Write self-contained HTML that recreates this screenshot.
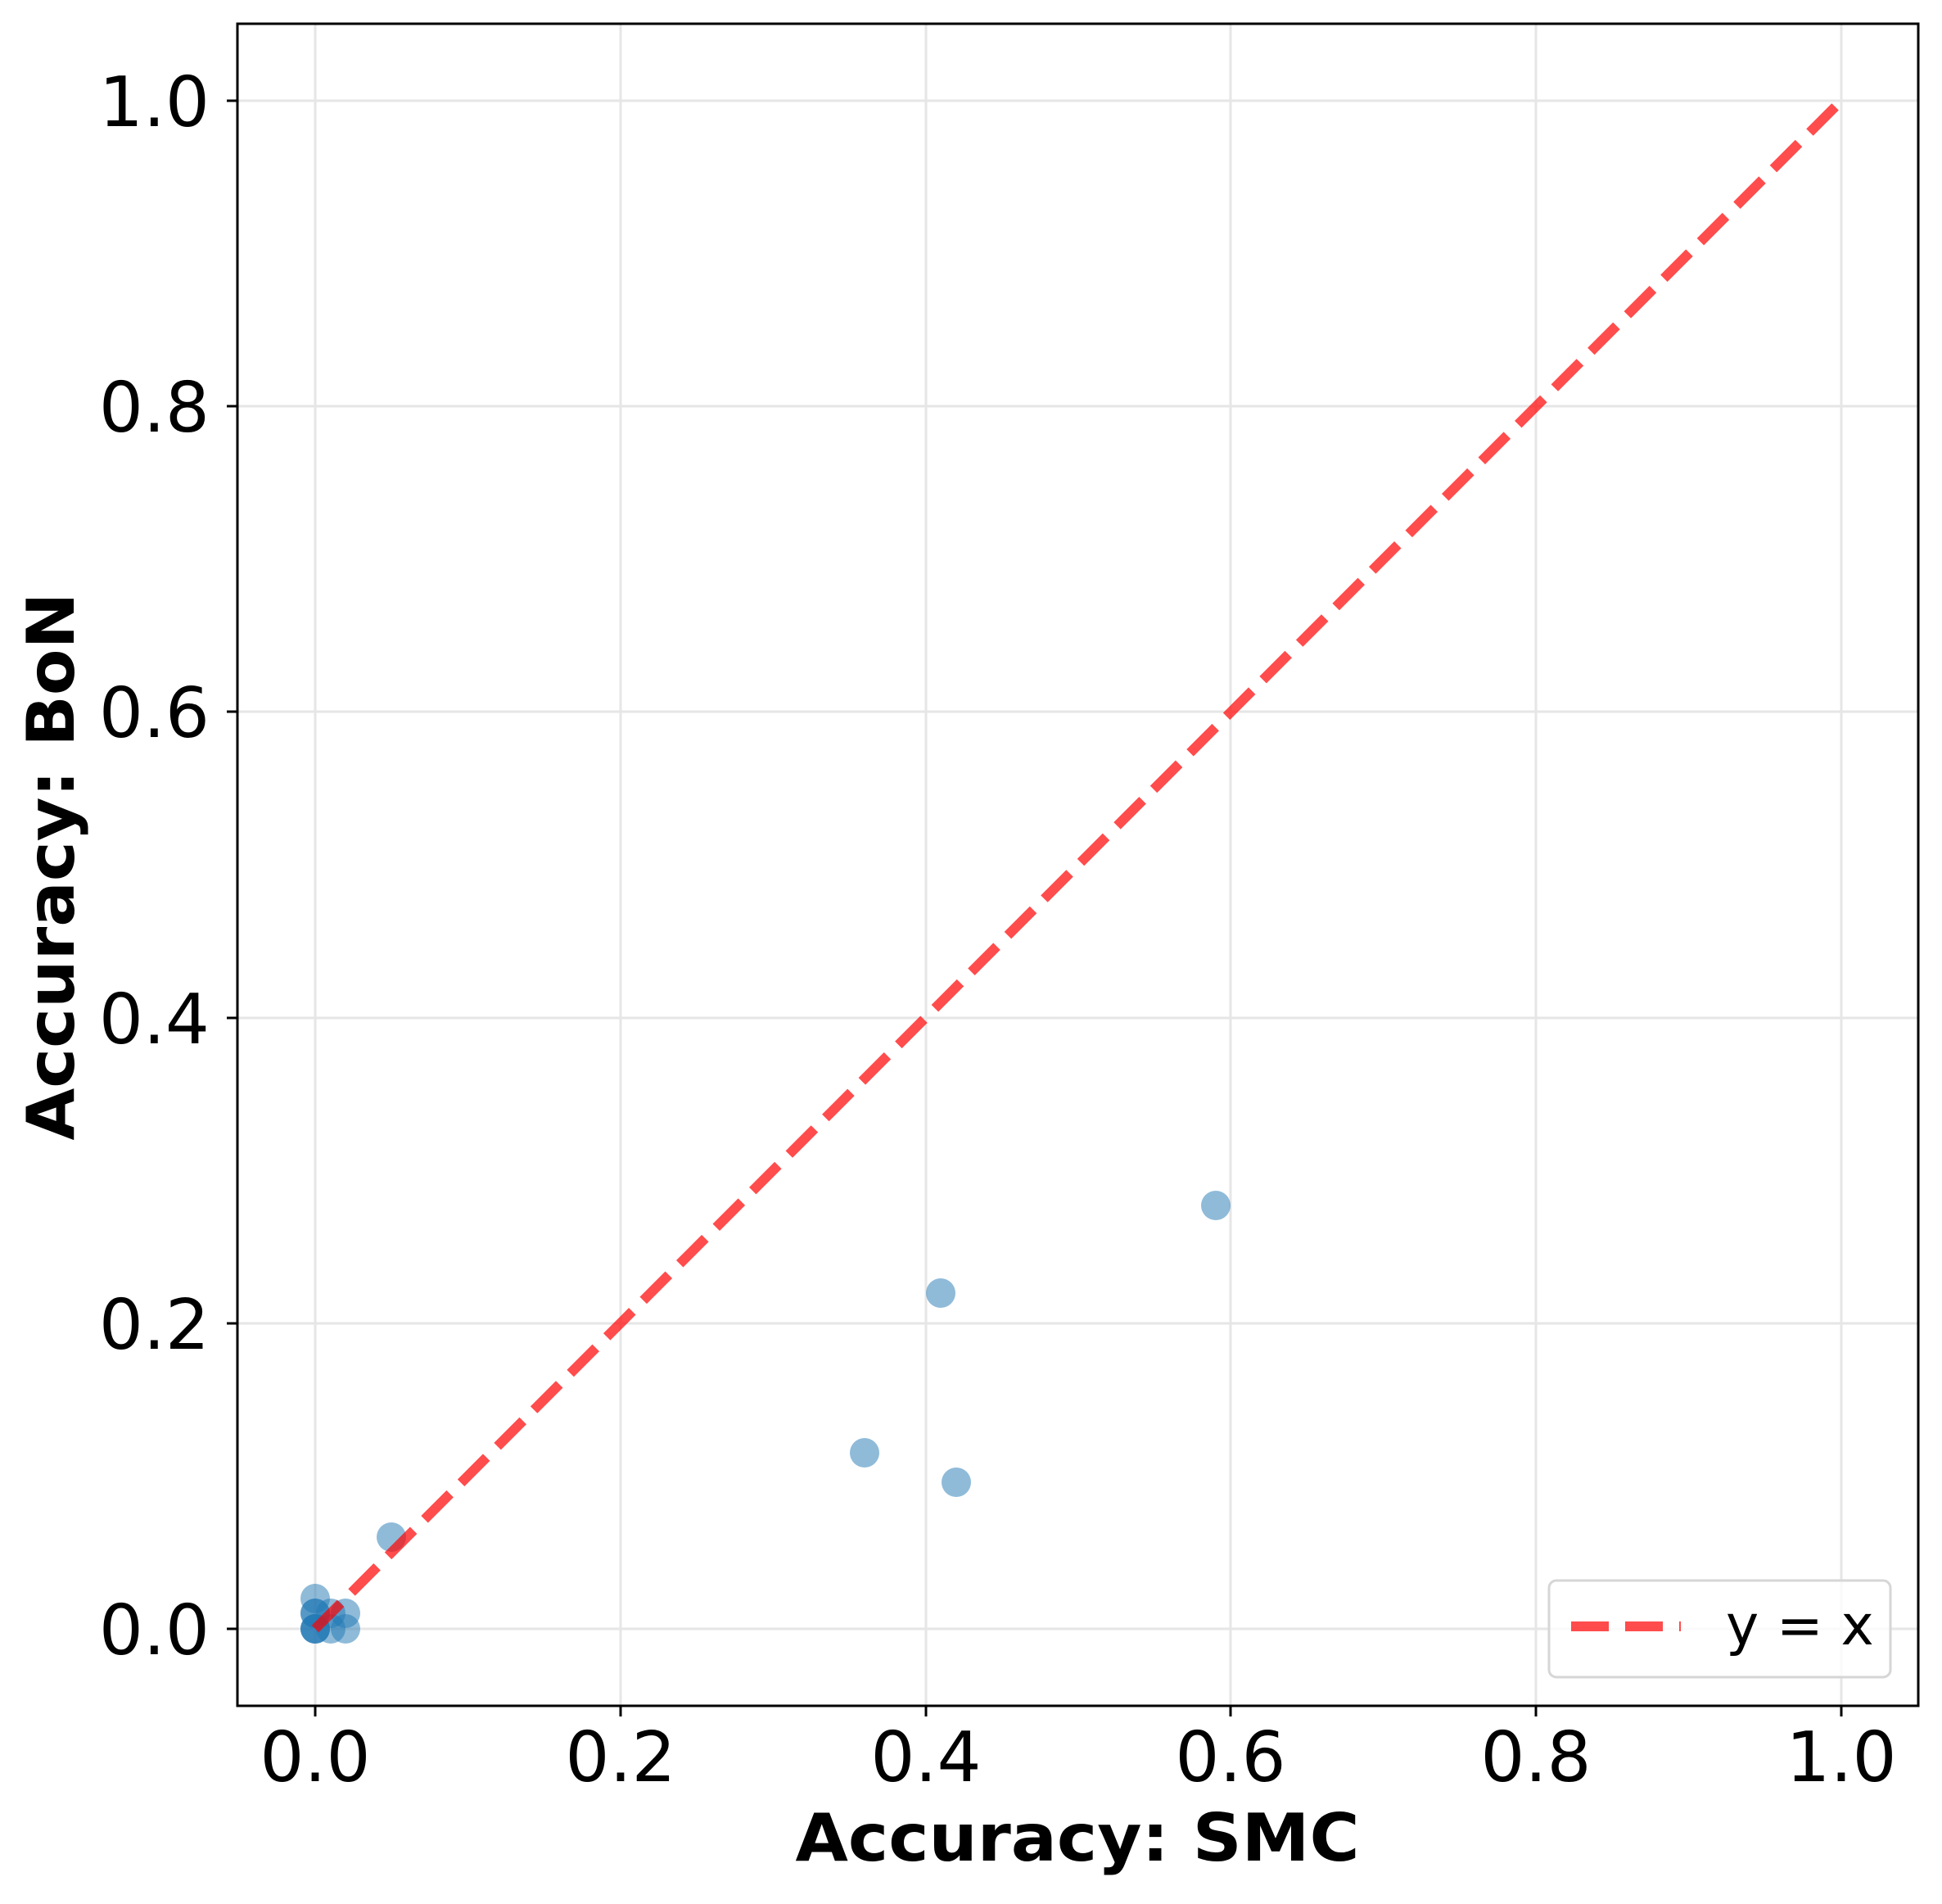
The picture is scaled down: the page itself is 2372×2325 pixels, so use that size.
<!DOCTYPE html>
<html><head><meta charset="utf-8"><style>html,body{margin:0;padding:0;background:#fff}</style></head>
<body>
<svg width="2372" height="2320" viewBox="0 0 2372 2320" xmlns="http://www.w3.org/2000/svg" font-family="DejaVu Sans, Liberation Sans, sans-serif">
<rect width="2372" height="2320" fill="#fff"/>
<g stroke="#e6e6e6" stroke-width="3">
<line x1="385" y1="29" x2="385" y2="2083"/>
<line x1="758" y1="29" x2="758" y2="2083"/>
<line x1="1131" y1="29" x2="1131" y2="2083"/>
<line x1="1503" y1="29" x2="1503" y2="2083"/>
<line x1="1876" y1="29" x2="1876" y2="2083"/>
<line x1="2249" y1="29" x2="2249" y2="2083"/>
<line x1="290" y1="1989" x2="2343" y2="1989"/>
<line x1="290" y1="1616" x2="2343" y2="1616"/>
<line x1="290" y1="1243" x2="2343" y2="1243"/>
<line x1="290" y1="869" x2="2343" y2="869"/>
<line x1="290" y1="496" x2="2343" y2="496"/>
<line x1="290" y1="123" x2="2343" y2="123"/>
</g>
<g fill="#1f77b4" fill-opacity="0.5">
<circle cx="478" cy="1877" r="18"/>
<circle cx="1056" cy="1774" r="18"/>
<circle cx="1149" cy="1579" r="18"/>
<circle cx="1168" cy="1810" r="18"/>
<circle cx="1485" cy="1472" r="18"/>
<circle cx="385" cy="1989" r="18"/>
<circle cx="385" cy="1989" r="18"/>
<circle cx="385" cy="1989" r="18"/>
<circle cx="385" cy="1970" r="18"/>
<circle cx="385" cy="1970" r="18"/>
<circle cx="385" cy="1952" r="18"/>
<circle cx="404" cy="1989" r="18"/>
<circle cx="404" cy="1970" r="18"/>
<circle cx="422" cy="1989" r="18"/>
<circle cx="422" cy="1970" r="18"/>
</g>
<line x1="385" y1="1989" x2="2249" y2="123" stroke="#ff0000" stroke-opacity="0.7" stroke-width="12" stroke-dasharray="44 19"/>
<rect x="290" y="29" width="2053" height="2054" fill="none" stroke="#000" stroke-width="3"/>
<g stroke="#000" stroke-width="3">
<line x1="385" y1="2083" x2="385" y2="2096"/>
<line x1="758" y1="2083" x2="758" y2="2096"/>
<line x1="1131" y1="2083" x2="1131" y2="2096"/>
<line x1="1503" y1="2083" x2="1503" y2="2096"/>
<line x1="1876" y1="2083" x2="1876" y2="2096"/>
<line x1="2249" y1="2083" x2="2249" y2="2096"/>
<line x1="277" y1="1989" x2="290" y2="1989"/>
<line x1="277" y1="1616" x2="290" y2="1616"/>
<line x1="277" y1="1243" x2="290" y2="1243"/>
<line x1="277" y1="869" x2="290" y2="869"/>
<line x1="277" y1="496" x2="290" y2="496"/>
<line x1="277" y1="123" x2="290" y2="123"/>
</g>
<g font-size="85" fill="#000" text-anchor="middle">
<text x="385" y="2175">0.0</text>
<text x="758" y="2175">0.2</text>
<text x="1131" y="2175">0.4</text>
<text x="1503" y="2175">0.6</text>
<text x="1876" y="2175">0.8</text>
<text x="2249" y="2175">1.0</text>
</g>
<g font-size="85" fill="#000" text-anchor="end">
<text x="256" y="2020">0.0</text>
<text x="256" y="1647">0.2</text>
<text x="256" y="1274">0.4</text>
<text x="256" y="900">0.6</text>
<text x="256" y="527">0.8</text>
<text x="256" y="154">1.0</text>
</g>
<text x="1316" y="2272" font-size="80" font-weight="bold" text-anchor="middle" textLength="689" lengthAdjust="spacingAndGlyphs">Accuracy: SMC</text>
<text transform="translate(90,1058) rotate(-90)" font-size="80" font-weight="bold" text-anchor="middle" textLength="669" lengthAdjust="spacingAndGlyphs">Accuracy: BoN</text>
<rect x="1892" y="1930" width="417" height="118" rx="9" fill="#fff" fill-opacity="0.8" stroke="#d6d6d6" stroke-width="3"/>
<line x1="1919" y1="1986" x2="2053" y2="1986" stroke="#ff0000" stroke-opacity="0.7" stroke-width="12" stroke-dasharray="46 20"/>
<text x="2108" y="2008" font-size="68" fill="#000">y = x</text>
</svg>
</body></html>
